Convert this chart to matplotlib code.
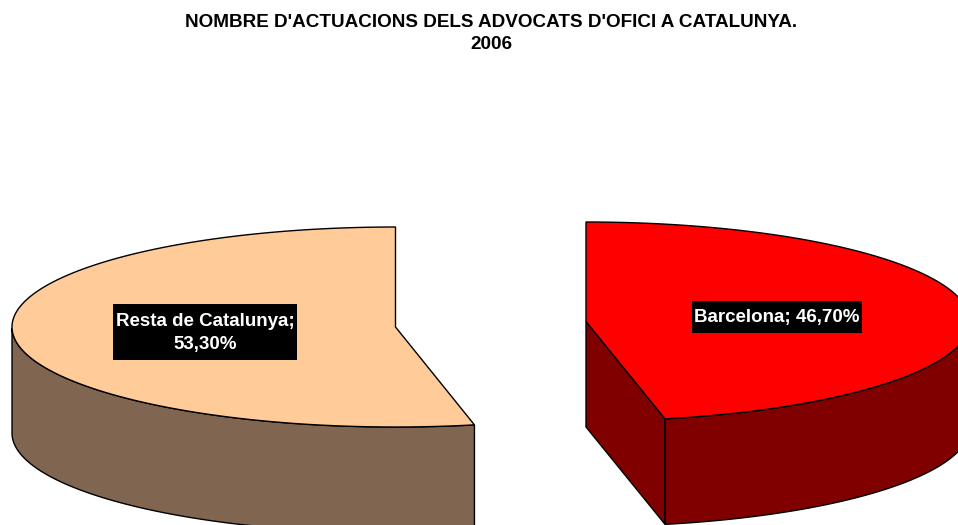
import numpy as np
import matplotlib
matplotlib.use("Agg")
import matplotlib.pyplot as plt
from matplotlib.patches import Polygon, Rectangle

title = "NOMBRE D'ACTUACIONS DELS ADVOCATS D'OFICI A CATALUNYA.\n2006"
labels = ["Barcelona; 46,70%", "Resta de Catalunya;\n53,30%"]
shares = [46.7, 53.3]
top_colors = ["#ff0000", "#ffcc99"]
side_colors = ["#800000", "#806650"]

plt.rcParams['font.family'] = ['Liberation Sans', 'DejaVu Sans']

fig = plt.figure(figsize=(9.58, 5.25), dpi=100)
ax = fig.add_axes([0, 0, 1, 1])
ax.set_xlim(0, 958)
ax.set_ylim(525, 0)
ax.axis('off')


def rim(cx, cy, rx, ry, a0, a1):
    # angles are clockwise from the top of the pie
    t = np.radians(np.linspace(a0, a1, 300))
    return cx + rx * np.sin(t), cy - ry * np.cos(t)


def draw_slice(cx, cy, rx, ry, depth, a0, a1, top, side, show_cut):
    x, y = rim(cx, cy, rx, ry, a0, a1)
    # outer wall, only the part facing the viewer
    keep = np.cos(np.radians(np.linspace(a0, a1, 300))) <= 0
    wx, wy = x[keep], y[keep]
    wall = np.r_[np.c_[wx, wy], np.c_[wx, wy + depth][::-1]]
    if show_cut:
        ex, ey = x[-1], y[-1]
        face = [(cx, cy), (ex, ey), (ex, ey + depth), (cx, cy + depth)]
        ax.add_patch(Polygon(face, closed=True, fc=side, ec='black', lw=1))
    ax.add_patch(Polygon(wall, closed=True, fc=side, ec='black', lw=1))
    ax.add_patch(Polygon(np.r_[[[cx, cy]], np.c_[x, y]], closed=True, fc=top, ec='black', lw=1))


a = shares[0] / 100 * 360
draw_slice(586, 321.5, 384, 99.5, 105.5, 0, a, top_colors[0], side_colors[0], True)
draw_slice(395.5, 327, 383.5, 100, 106, a, 360, top_colors[1], side_colors[1], False)

ax.add_patch(Rectangle((692, 301), 170, 32, fc='black', ec='none'))
ax.add_patch(Rectangle((113, 304), 184, 56, fc='black', ec='none'))
ax.text(777, 317.5, labels[0], color='white', fontsize=13.5, fontweight='bold', ha='center', va='center')
ax.text(205, 333, labels[1], color='white', fontsize=13.5, fontweight='bold', ha='center', va='center',
        linespacing=1.4)
ax.text(491, 33.5, title, color='black', fontsize=13.6, fontweight='bold', ha='center', va='center',
        linespacing=1.4)

fig.savefig("out.png", dpi=100)
